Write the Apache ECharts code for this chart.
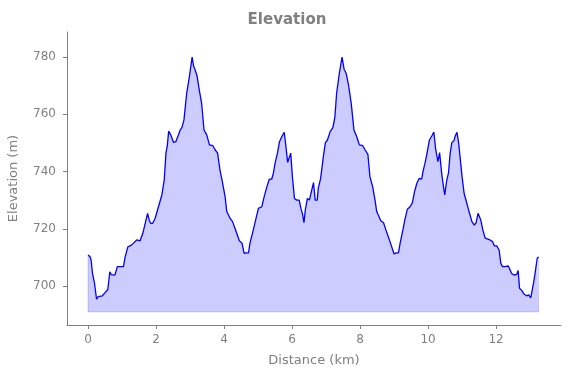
<!DOCTYPE html>
<html>
<head>
<meta charset="utf-8">
<script src="https://cdn.jsdelivr.net/npm/echarts@6/dist/echarts.min.js"></script>
<style>
html,body{margin:0;padding:0;background:#fff;}
#chart{width:571px;height:378px;}
</style>
</head>
<body>
<div id="chart"></div>
<script>
const distanceKm = [
0,0.06,0.09,0.13,0.19,0.25,0.30,0.35,0.42,0.50,0.58,0.62,0.64,0.68,0.72,0.79,0.86,0.94,1.04,1.09,
1.17,1.25,1.33,1.43,1.53,1.61,1.68,1.75,1.80,1.84,1.90,1.97,2.07,2.17,2.24,2.29,2.33,2.37,2.43,2.51,
2.58,2.66,2.71,2.76,2.82,2.90,2.98,3.06,3.10,3.14,3.20,3.27,3.34,3.41,3.49,3.57,3.67,3.74,3.81,3.88,
3.95,4.03,4.08,4.13,4.18,4.25,4.32,4.39,4.45,4.53,4.59,4.65,4.72,4.76,4.86,4.94,5.01,5.11,5.18,5.26,
5.33,5.40,5.45,5.50,5.57,5.63,5.70,5.77,5.82,5.87,5.91,5.96,6.01,6.07,6.14,6.21,6.26,6.31,6.35,6.39,
6.45,6.51,6.56,6.63,6.68,6.74,6.77,6.84,6.92,6.98,7.04,7.12,7.20,7.26,7.31,7.39,7.47,7.53,7.59,7.66,
7.74,7.82,7.90,7.98,8.08,8.15,8.23,8.29,8.37,8.44,8.49,8.54,8.61,8.69,8.76,8.83,8.88,8.93,9.00,9.06,
9.13,9.18,9.26,9.32,9.39,9.47,9.54,9.60,9.67,9.74,9.81,9.86,9.91,9.96,10.04,10.11,10.17,10.22,10.29,10.34,
10.40,10.45,10.49,10.55,10.60,10.65,10.70,10.76,10.80,10.85,10.90,10.96,11.00,11.06,11.14,11.22,11.29,11.36,11.41,11.47,
11.55,11.61,11.68,11.73,11.82,11.90,11.95,12.02,12.09,12.14,12.19,12.26,12.36,12.41,12.46,12.54,12.61,12.65,12.69,12.76,
12.82,12.90,12.96,13.02,13.05,13.10,13.14,13.17,13.21,13.25
];
const elevationM = [
710.8,710.2,709.0,704.4,700.9,695.4,696.3,696.9,696.6,697.7,698.8,699.0,705.0,704.0,703.8,703.8,706.8,706.8,706.8,710.2,
713.7,714.1,714.9,716.1,715.8,718.4,721.9,725.4,723.0,721.9,721.9,723.6,727.7,731.8,737.0,746.4,749.0,754.1,752.8,750.2,
750.4,752.8,754.5,755.3,758.0,767.3,773.1,779.9,777.0,775.7,773.7,768.5,763.8,754.5,752.8,749.3,749.0,747.5,746.4,740.5,
736.4,731.2,726.0,726.6,723.6,722.5,720.2,717.8,715.8,714.9,711.4,711.6,711.6,714.9,719.6,723.6,727.1,727.7,731.2,734.7,
737.3,737.3,739.4,742.9,746.4,750.4,752.2,753.7,748.7,743.2,743.8,746.4,738.2,730.6,730.0,730.0,727.1,725.0,722.1,726.6,
730.6,730.0,730.0,736.1,730.0,730.0,734.1,737.6,745.2,750.1,751.0,753.9,755.3,759.1,767.3,774.3,779.9,775.7,774.3,770.2,
763.8,754.5,752.2,749.3,749.0,747.5,746.0,738.2,734.7,730.0,726.0,726.4,722.8,722.1,719.6,717.2,715.5,714.9,711.2,711.6,
711.6,715.1,719.6,723.3,726.8,727.7,729.1,732.9,735.9,737.6,737.3,740.5,742.9,745.8,751.0,752.4,753.8,748.1,743.4,746.6,
739.4,735.0,731.8,737.0,739.4,746.4,750.1,750.7,752.4,753.7,749.9,742.9,738.2,732.4,728.9,725.4,722.5,721.3,722.0,725.4,
723.1,719.6,716.7,716.1,716.1,715.5,714.0,714.0,712.6,707.9,706.8,706.8,707.0,706.8,704.4,703.8,704.1,705.4,699.2,698.4,
697.2,696.6,696.9,695.9,696.5,700.9,703.8,704.0,709.7,710.2
];
const fillBase = 691.0;
const xTicks = [0, 2, 4, 6, 8, 10, 12];
const yTicks = [700, 720, 740, 760, 780];
const titleText = 'Elevation';
const xName = 'Distance (km)';
const yName = 'Elevation (m)';

const profile = distanceKm.map((d, i) => [d, elevationM[i]]);
const n = distanceKm.length;
const outline = [
  [distanceKm[0], elevationM[0]],
  [distanceKm[0], fillBase],
  [distanceKm[n - 1], fillBase],
  [distanceKm[n - 1], elevationM[n - 1]]
];

const gray = '#808080';
const font = 'DejaVu Sans';
const chart = echarts.init(document.getElementById('chart'), null, {renderer: 'canvas'});
chart.setOption({
  animation: false,
  backgroundColor: '#ffffff',
  title: {
    text: titleText,
    left: 282, top: 8, textAlign: 'center',
    textStyle: {fontFamily: font, fontSize: 15, fontWeight: 'bold', color: gray}
  },
  grid: {left: 67, right: 10, top: 32, bottom: 53, containLabel: false, outerBoundsMode: 'none'},
  xAxis: {
    type: 'value', min: -0.62, max: 13.91,
    name: xName, nameLocation: 'middle', nameGap: 29,
    nameTextStyle: {fontFamily: font, fontSize: 13, color: gray},
    axisLine: {show: true, onZero: false, lineStyle: {color: gray, width: 1}},
    axisTick: {show: true, length: 4, lineStyle: {color: gray}, customValues: xTicks},
    axisLabel: {fontFamily: font, fontSize: 12, color: gray, margin: 9, customValues: xTicks},
    splitLine: {show: false}
  },
  yAxis: {
    type: 'value', min: 686.4, max: 788.7,
    name: yName, nameLocation: 'middle', nameGap: 47, nameRotate: 90,
    nameTextStyle: {fontFamily: font, fontSize: 13, color: gray},
    axisLine: {show: true, onZero: false, lineStyle: {color: gray, width: 1}},
    axisTick: {show: true, length: 4, lineStyle: {color: gray}, customValues: yTicks},
    axisLabel: {fontFamily: font, fontSize: 12, color: gray, margin: 11, customValues: yTicks},
    splitLine: {show: false}
  },
  series: [
    {
      type: 'line', data: profile, symbol: 'none', smooth: false,
      lineStyle: {color: 'rgba(0,0,255,0)', width: 0},
      areaStyle: {color: 'rgba(0,0,255,0.2)', origin: fillBase, opacity: 1},
      z: 1, silent: true
    },
    {
      type: 'line', data: outline, symbol: 'none',
      lineStyle: {color: 'rgba(0,0,255,0.2)', width: 1},
      z: 2, silent: true
    },
    {
      type: 'line', data: profile, symbol: 'none', smooth: false,
      lineStyle: {color: '#0000ff', width: 1.3},
      z: 3, silent: true
    }
  ]
});
</script>
</body>
</html>
